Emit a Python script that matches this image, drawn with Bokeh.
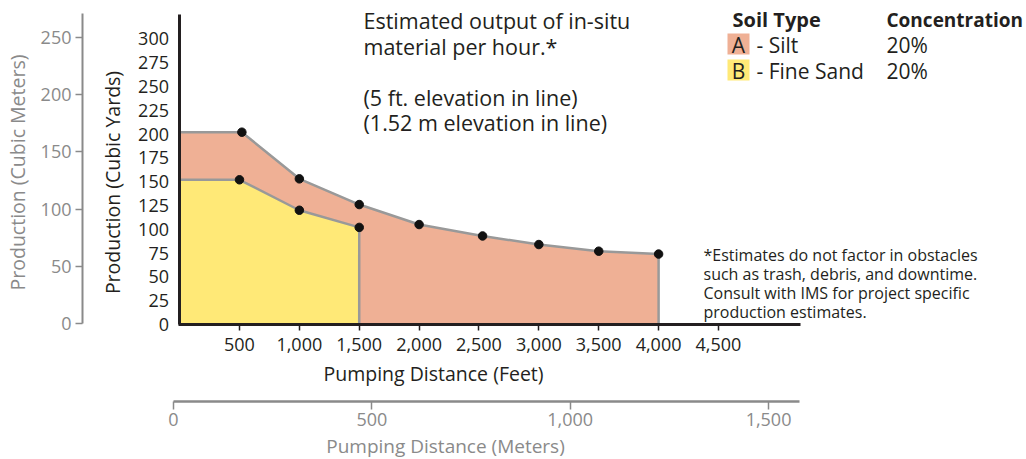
import math
from bokeh.plotting import figure
from bokeh.models import Range1d, FixedTicker, NumeralTickFormatter, Label, BoxAnnotation, LinearAxis
from bokeh.embed import file_html
from bokeh.resources import INLINE

# ---------------- data ----------------
silt_feet = [520, 1000, 1500, 2000, 2530, 3000, 3500, 4000]
silt_yards = [202, 153, 126, 105, 93, 84, 77, 74]
sand_feet = [500, 1000, 1500]
sand_yards = [152, 120, 102]

feet_ticks = [500, 1000, 1500, 2000, 2500, 3000, 3500, 4000, 4500]
yard_ticks = [0, 25, 50, 75, 100, 125, 150, 175, 200, 225, 250, 275, 300]
meter_prod_ticks = [0, 50, 100, 150, 200, 250]
meter_dist_ticks = [0, 500, 1000, 1500]

title_lines = ["Estimated output of in-situ", "material per hour.*", "",
               "(5 ft. elevation in line)", "(1.52 m elevation in line)"]
note_lines = ["*Estimates do not factor in obstacles",
              "such as trash, debris, and downtime.",
              "Consult with IMS for project specific",
              "production estimates."]
soil_keys = ["A", "B"]
soil_names = ["- Silt", "- Fine Sand"]
concentrations = ["20%", "20%"]

# ---------------- style ----------------
FONT = "Open Sans"
SALMON = "#EFB095"
YELLOW = "#FFE977"
OUTLINE = "#999999"
BLACK = "#231f20"
GRAY = "#8a8a8a"
swatch_colors = [SALMON, YELLOW]
W, H = 1026, 459

# pixel scales (canvas px from top-left)
FT0, FTS = 179.1, 0.11975     # feet axis: px of 0 ft, px per ft
YD0, YDS = 324.0, 0.952       # yards axis
M0, MS = 323.3, 1.1465        # cubic meters axis
D0, DS = 173.0, 0.3967        # meters distance axis

def fx(px):
    return (px - FT0) / FTS

def fy(py):
    return (YD0 - py) / YDS

p = figure(width=W, height=H, title=None,
           x_range=Range1d(fx(0), fx(W)), y_range=Range1d(fy(H), fy(0)),
           x_axis_location=None, y_axis_location=None,
           output_backend="svg", toolbar_location=None,
           min_border=0, min_border_left=0, min_border_right=0,
           min_border_top=0, min_border_bottom=0)
p.extra_y_ranges = {"m3": Range1d(-(H - M0) / MS, M0 / MS)}
p.extra_x_ranges = {"m": Range1d(-D0 / DS, (W - D0) / DS)}
p.grid.visible = False
p.outline_line_color = None
p.background_fill_color = "white"
p.border_fill_color = "white"

def area(xs, ys):
    px = [0] + xs + [xs[-1], 0]
    py = [ys[0]] + ys + [0, 0]
    lx = [0] + xs + [xs[-1]]
    ly = [ys[0]] + ys + [0]
    return px, py, lx, ly

ax_, ay_, lx_, ly_ = area(silt_feet, silt_yards)
p.patch(ax_, ay_, fill_color=SALMON, line_color=None)
p.line(lx_, ly_, line_color=OUTLINE, line_width=2.5)
ax_, ay_, lx_, ly_ = area(sand_feet, sand_yards)
p.patch(ax_, ay_, fill_color=YELLOW, line_color=None)
p.line(lx_, ly_, line_color=OUTLINE, line_width=2.5)
p.scatter(silt_feet, silt_yards, size=8.5, color="#111111")
p.scatter(sand_feet, sand_yards, size=8.5, color="#111111")

def style_axis(a, color, lw, tick_out, size, standoff):
    a.minor_tick_line_color = None
    a.major_tick_out = tick_out
    a.major_tick_in = 0
    a.major_tick_line_color = color if tick_out else None
    a.major_tick_line_width = 1.5
    a.axis_line_color = color
    a.axis_line_width = lw
    a.major_label_text_font = FONT
    a.major_label_text_font_size = size
    a.major_label_text_color = color
    a.major_label_standoff = standoff

# feet axis
xa = LinearAxis(ticker=FixedTicker(ticks=feet_ticks),
                formatter=NumeralTickFormatter(format="0,0"),
                fixed_location=0, bounds=(fx(178), fx(800)))
style_axis(xa, BLACK, 3, 6, "18px", 7)
p.add_layout(xa, "below")

# yards axis
ya = LinearAxis(ticker=FixedTicker(ticks=yard_ticks),
                fixed_location=fx(178.5), bounds=(0, fy(14)))
style_axis(ya, BLACK, 3, 0, "18px", 10)
p.add_layout(ya, "left")

# cubic meters axis
ma = LinearAxis(ticker=FixedTicker(ticks=meter_prod_ticks), y_range_name="m3",
                fixed_location=fx(82), bounds=(0, (M0 - 13) / MS))
style_axis(ma, GRAY, 2, 7, "18px", 4)
p.add_layout(ma, "left")

# meters distance axis
da = LinearAxis(ticker=FixedTicker(ticks=meter_dist_ticks), x_range_name="m",
                formatter=NumeralTickFormatter(format="0,0"),
                fixed_location=fy(401), bounds=(0, (799 - D0) / DS))
style_axis(da, GRAY, 2.5, 8, "18px", 3)
p.add_layout(da, "below")

def lab(x, y, text, size, color=BLACK, bold=False, align="left", angle=0):
    p.add_layout(Label(x=fx(x), y=fy(y), text=text, text_font=FONT,
                       text_font_size=size, text_color=color,
                       text_font_style="bold" if bold else "normal",
                       text_align=align, text_baseline="middle", angle=angle))

# title block
for i, t in enumerate(title_lines):
    if t:
        lab(363, 20 + 25.5 * i, t, "21.5px")

# legend
lab(732, 19, "Soil Type", "20px", bold=True)
lab(886, 19, "Concentration", "19px", bold=True)
for i, k in enumerate(soil_keys):
    cy = 44 + 26 * i
    p.add_layout(BoxAnnotation(left=fx(727), right=fx(749), top=fy(cy - 11), bottom=fy(cy + 10),
                               fill_color=swatch_colors[i], fill_alpha=1, line_color=None))
    lab(738, cy, k, "21px", align="center")
    lab(756, cy, soil_names[i], "21px")
    lab(886, cy, concentrations[i], "21px")

# footnote
for i, t in enumerate(note_lines):
    lab(703, 254 + 19 * i, t, "16px")

# axis titles
lab(112, 182, "Production (Cubic Yards)", "19.5px", align="center", angle=math.pi / 2)
lab(433, 373, "Pumping Distance (Feet)", "19.5px", align="center")
lab(17, 172, "Production (Cubic Meters)", "19.5px", color=GRAY, align="center", angle=math.pi / 2)
lab(445, 445, "Pumping Distance (Meters)", "19px", color=GRAY, align="center")

open("out.html", "w").write(file_html(p, INLINE))
